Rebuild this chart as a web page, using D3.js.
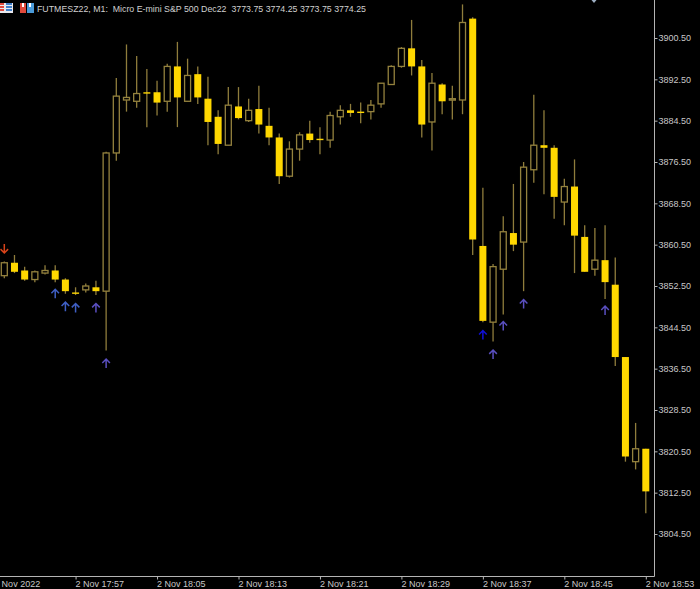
<!DOCTYPE html>
<html><head><meta charset="utf-8">
<style>
html,body{margin:0;padding:0;background:#000;overflow:hidden}
svg{display:block}
text{font-family:"Liberation Sans",Arial,sans-serif}
</style>
<script src="https://cdn.jsdelivr.net/npm/d3@7"></script>
</head><body><svg id="c" width="700" height="589"></svg>
<script>
const title = "FUTMESZ22, M1:  Micro E-mini S&P 500 Dec22  3773.75 3774.25 3773.75 3774.25";
const firstBar = "2022-11-02T17:50:00Z";
const opens = [3854.5,3857,3855.5,3853.75,3855,3855.5,3853.75,3851.25,3851.75,3852.25,3851.5,3878.25,3888.5,3888.25,3890,3890,3888.25,3895,3888.25,3893.5,3888.75,3885.25,3879.75,3887.25,3884.5,3886.75,3883.5,3881.25,3873.75,3879,3882,3881,3880.75,3885.25,3886.5,3886.25,3886.25,3887.75,3891.5,3895,3898.5,3895,3884.25,3891.5,3888.5,3888.5,3904.25,3860.25,3845.5,3855.75,3862.75,3861,3875,3879.75,3879.25,3868.75,3871.75,3862,3855.75,3857.5,3852.75,3838.75,3818.5,3821];
const highs = [3857.25,3858.5,3856.25,3855.5,3856.5,3856.5,3854,3852.25,3853,3853.5,3878.5,3892.75,3899.25,3897,3894.5,3892.25,3895.5,3899.75,3896.5,3895,3893,3886.5,3891,3891,3888.75,3891.25,3887,3882,3880.5,3882.25,3884.5,3883.25,3886.25,3887.5,3887.75,3888,3888.5,3891.75,3895.25,3898.75,3904,3896.25,3893.75,3891.75,3891.25,3907,3904.5,3871.5,3856.75,3866,3872.25,3876.5,3889.5,3886.5,3879.75,3873.25,3877,3864.25,3863.75,3864.25,3858,3838.75,3826,3821];
const lows = [3854,3855,3853.5,3853.25,3854.75,3853.25,3851,3850.75,3851.25,3850.75,3840,3876.75,3886.25,3887,3883.25,3885.5,3886.25,3883.25,3888.25,3887.75,3879.75,3878,3879.75,3884.75,3884.25,3882,3879.75,3872.25,3873.5,3876.75,3880.25,3878,3879.25,3883.75,3885.25,3884,3884.75,3887,3891.5,3894.75,3893.25,3881.25,3878.75,3885.75,3884.75,3885.75,3858.5,3845.5,3841.75,3847,3859.25,3851.5,3872.5,3870.25,3865.5,3864.25,3855,3855.25,3854.5,3850,3837,3818.5,3817,3808.5];
const closes = [3857,3855.25,3853.75,3855.25,3855.5,3853.75,3851.5,3851.25,3852.5,3851.5,3878.25,3889.25,3889,3889.75,3889.75,3888,3895,3889,3893.25,3889,3884.25,3880,3887.5,3885,3886.5,3883.75,3881.25,3873.75,3879,3881.75,3880.75,3880.75,3885.5,3886.5,3886,3886.25,3887.5,3891.75,3895,3898.5,3895,3883.75,3891.75,3888.25,3888.75,3903.5,3861.5,3845.75,3856.25,3863,3860.5,3875.5,3879.75,3879.25,3869.75,3871.75,3862.25,3855.25,3857.5,3853.25,3838.75,3819.5,3821,3812.75];
const priceTicks = [3900.5,3892.5,3884.5,3876.5,3868.5,3860.5,3852.5,3844.5,3836.5,3828.5,3820.5,3812.5,3804.5];
const timeTicks = ["17:49","17:57","18:05","18:13","18:21","18:29","18:37","18:45","18:53"];
const timeTickLabels = ["2 Nov 2022","2 Nov 17:57","2 Nov 18:05","2 Nov 18:13","2 Nov 18:21","2 Nov 18:29","2 Nov 18:37","2 Nov 18:45","2 Nov 18:53"];
const arrowBars = [0,5,6,7,9,10,47,48,49,51,59];
const arrowPrices = [3859.75,3851,3848.5,3848.25,3848.25,3837.5,3843,3839.25,3844.75,3849,3847.75];
const arrowKinds = ["sell","buyA","buyA","buyA","buyB","buyB","buyC","buyB","buyB","buyB","buyB"];

const MIN = 60000, t0 = +new Date(firstBar);
const barTime = i => new Date(t0 + i*MIN);
const tickTime = s => new Date("2022-11-02T"+s+":00Z");
const svg = d3.select("#c");
const x = d3.scaleUtc().domain([barTime(0),barTime(63)]).range([4.3,645.8]);
const y = d3.scaleLinear().domain([3804.5,3900.5]).range([534,38]);
const WICK="#8f7d3c", EDGE="#94823e", FILL="#ffd700", AXIS="#b4b4b4", BW=7;

const g = svg.append("g");
const bars = opens.map((o,i)=>({i,o,h:highs[i],l:lows[i],c:closes[i]}));
const sel = g.selectAll("g.bar").data(bars).join("g").attr("class","bar")
  .attr("transform",d=>`translate(${x(barTime(d.i))},0)`);
sel.append("line").attr("y1",d=>y(d.h)).attr("y2",d=>y(d.l)).attr("stroke",WICK).attr("stroke-width",1.3);
sel.append("rect")
  .attr("x",d=>d.c>d.o?-BW/2+.5:-BW/2)
  .attr("width",d=>d.c>d.o?BW-1:BW)
  .attr("y",d=>y(Math.max(d.o,d.c)))
  .attr("height",d=>Math.max(1.4,Math.abs(y(d.o)-y(d.c))))
  .attr("fill",d=>d.c>d.o?"#000":FILL)
  .attr("stroke",d=>d.c>d.o?EDGE:"none")
  .attr("stroke-width",1.3);

const arrowColor = {sell:"#d8431a",buyA:"#3f5fc4",buyB:"#5a4fc0",buyC:"#1010d8"};
const arrows = arrowBars.map((b,k)=>({b,p:arrowPrices[k],k:arrowKinds[k]}));
g.selectAll("path.arrow").data(arrows).join("path").attr("class","arrow")
  .attr("transform",d=>`translate(${x(barTime(d.b))},${y(d.p)})`)
  .attr("d",d=>d.k==="sell"?"M0,-4.5V4.5M-3.8,0.6L0,4.5L3.8,0.6":"M0,4.5V-4.5M-3.8,-0.6L0,-4.5L3.8,-0.6")
  .attr("fill","none").attr("stroke",d=>arrowColor[d.k]).attr("stroke-width",1.5);

const axR = d3.axisRight(y).tickValues(priceTicks).tickFormat(d3.format(".2f")).tickSize(3).tickPadding(1);
const gR = svg.append("g").attr("transform","translate(654.5,0)").call(axR);
const axB = d3.axisBottom(x).tickValues(timeTicks.map(tickTime)).tickFormat((d,i)=>timeTickLabels[i]).tickSize(3).tickPadding(1);
const gB = svg.append("g").attr("transform","translate(0,576.5)").call(axB);
[gR,gB].forEach(a=>{
  a.selectAll(".domain").remove();
  a.selectAll(".tick line").attr("stroke",AXIS);
  a.selectAll(".tick text").attr("fill","#c8c8c8").attr("font-size",9).attr("font-family","Liberation Sans");
});
gB.selectAll(".tick text").attr("text-anchor","start").attr("dx",-0.5);
svg.append("path").attr("d","M0,576.5H654.5V0").attr("fill","none").attr("stroke",AXIS);

// small top marker
svg.append("path").attr("d","M591.5,0H596.5L594,3Z").attr("fill","#9fb0c4");

// header icons
const ic = svg.append("g");
ic.append("rect").attr("x",0).attr("y",3).attr("width",13).attr("height",10).attr("fill","#e8e8ee");
[3,6,9].forEach(b=>{
  ic.append("rect").attr("x",0).attr("y",b).attr("width",4).attr("height",2).attr("fill","#e04a3c");
  ic.append("rect").attr("x",6).attr("y",b).attr("width",6).attr("height",2).attr("fill","#3f7fc8");
});
ic.append("rect").attr("x",20).attr("y",3).attr("width",6).attr("height",10).attr("fill","#e04a3c");
ic.append("rect").attr("x",22).attr("y",3).attr("width",2).attr("height",4).attr("fill","#fff");
ic.append("rect").attr("x",27).attr("y",3).attr("width",7).attr("height",10).attr("fill","#4a9ad8");
ic.append("rect").attr("x",29).attr("y",3).attr("width",2).attr("height",4).attr("fill","#fff");

svg.append("text").attr("x",37).attr("y",11.5).attr("fill","#d0d0d0").attr("font-size",8.8)
  .attr("xml:space","preserve").style("white-space","pre").text(title);
</script></body></html>
